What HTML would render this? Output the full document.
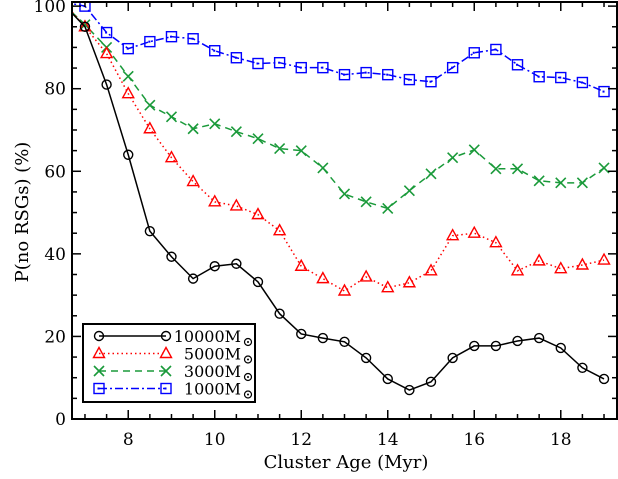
<!DOCTYPE html>
<html><head><meta charset="utf-8"><style>
html,body{margin:0;padding:0;background:#fff;}
svg text{font-family:"DejaVu Serif","Liberation Serif",serif;}
</style></head><body>
<svg id="chart" width="618" height="474" viewBox="0 0 618 474" xmlns="http://www.w3.org/2000/svg">
<defs><clipPath id="pc"><rect x="72" y="2" width="545" height="417"/></clipPath></defs>
<g id="series" clip-path="url(#pc)"></g>
<rect x="72" y="2" width="545" height="417" fill="none" stroke="#000" stroke-width="2"/>
<g id="axes"></g>
<text x="346" y="468" font-size="18" text-anchor="middle">Cluster Age (Myr)</text>
<text transform="translate(28,212) rotate(-90)" font-size="18" text-anchor="middle">P(no RSGs) (%)</text>
<g id="legend"></g>
</svg>
<script>
const ages = [6.5,7,7.5,8,8.5,9,9.5,10,10.5,11,11.5,12,12.5,13,13.5,14,14.5,15,15.5,16,16.5,17,17.5,18,18.5,19];
const m10000 = [100.5,95,81,64,45.5,39.3,34,37,37.6,33.2,25.5,20.6,19.6,18.7,14.8,9.7,7,9,14.8,17.7,17.7,18.9,19.6,17.2,12.4,9.7];
const m5000 = [101,95,88.5,78.8,70.3,63.3,57.5,52.6,51.6,49.5,45.6,37,34,31,34.4,31.8,33,35.9,44.4,45,42.7,35.9,38.3,36.4,37.3,38.5];
const m3000 = [100.5,95.5,90,83,76,73.2,70.3,71.5,69.6,67.9,65.5,65,60.8,54.5,52.6,51,55.3,59.4,63.3,65.2,60.6,60.6,57.7,57.2,57.2,60.8];
const m1000 = [101,100,93.6,89.7,91.4,92.6,92.1,89.2,87.5,86.1,86.3,85.1,85.1,83.4,83.9,83.4,82.2,81.7,85.1,88.7,89.5,85.8,82.9,82.7,81.5,79.3];
const seriesNames = ["10000M","5000M","3000M","1000M"];
const xTicks = [8,10,12,14,16,18];
const yTicks = [0,20,40,60,80,100];

const NS="http://www.w3.org/2000/svg";
const X0=6.7,X1=19.3,Y0=0,Y1=101;
const L=72,R=617,T=2,B=419;
function sx(v){return L+(v-X0)/(X1-X0)*(R-L);}
function sy(v){return B-(v-Y0)/(Y1-Y0)*(B-T);}
function el(tag,attrs,parent){const e=document.createElementNS(NS,tag);for(const k in attrs)e.setAttribute(k,attrs[k]);parent.appendChild(e);return e;}

const axes=document.getElementById('axes');
for(let v=7;v<=19.001;v+=0.5){
  const major=Math.abs(v/2-Math.round(v/2))<1e-6;
  const len=major?9:5;
  const t1=el('line',{x1:sx(v),x2:sx(v),y1:B,y2:B-len,stroke:'#000','stroke-width':1.5},axes);
  
  
  const t2=el('line',{x1:sx(v),x2:sx(v),y1:T,y2:T+len,stroke:'#000','stroke-width':1.5},axes);
  
  
}
xTicks.forEach(v=>{
  const t=el('text',{x:sx(v),y:445,'font-size':17,'text-anchor':'middle'},axes);t.textContent=v;
  
  
});
for(let v=0;v<=100;v+=5){
  const major=v%20===0;const len=major?9:5;
  const t1=el('line',{x1:L,x2:L+len,y1:sy(v),y2:sy(v),stroke:'#000','stroke-width':1.5},axes);
  
  
  const t2=el('line',{x1:R,x2:R-len,y1:sy(v),y2:sy(v),stroke:'#000','stroke-width':1.5},axes);
  
  
}
yTicks.forEach(v=>{
  const t=el('text',{x:66,y:sy(v)+6,'font-size':17,'text-anchor':'end'},axes);t.textContent=v;
  
  
});

const styles=[
 {c:'#000',d:'',m:'circle'},
 {c:'#ff0000',d:'1.5,3',m:'tri'},
 {c:'#1a9a3a',d:'7,5',m:'x'},
 {c:'#0000ff',d:'8,3,2,3',m:'sq'}];
function marker(g,type,x,y,c){
  let e;
  if(type==='circle')e=el('circle',{cx:x,cy:y,r:4.5,fill:'none',stroke:c,'stroke-width':1.4},g);
  else if(type==='tri')e=el('polygon',{points:`${x},${y-6} ${x-5.5},${y+4} ${x+5.5},${y+4}`,fill:'none',stroke:c,'stroke-width':1.4},g);
  else if(type==='x')e=el('path',{d:`M${x-5},${y-5}L${x+5},${y+5}M${x-5},${y+5}L${x+5},${y-5}`,stroke:c,'stroke-width':1.6},g);
  else {e=el('rect',{x:x-5,y:y-5,width:10,height:10,fill:'none',stroke:c,'stroke-width':1.4},g);
    const d=el('rect',{x:x-1.5,y:y-1,width:2,height:2,fill:c},g);
    
    }
  
  
}
const sg=document.getElementById('series');
const allSeries=[m10000,m5000,m3000,m1000];
[3,2,1,0].forEach(i=>{
  const vals=allSeries[i],s=styles[i];
  const g=el('g',{},sg);
  
  
  const pts=ages.map((a,k)=>sx(a)+','+sy(vals[k])).join(' ');
  const pl=el('polyline',{points:pts,fill:'none',stroke:s.c,'stroke-width':1.5,'stroke-dasharray':s.d},g);
  
  
  ages.forEach((a,k)=>marker(g,s.m,sx(a),sy(vals[k]),s.c));
});

const lg=document.getElementById('legend');
const box=el('rect',{x:83,y:324,width:172,height:78,fill:'#fff',stroke:'#000','stroke-width':2},lg);


seriesNames.forEach((n,i)=>{
  const y=336+i*17.5,s=styles[i];
  const g=el('g',{},lg);
  
  
  const ln=el('line',{x1:99,x2:166,y1:y,y2:y,stroke:s.c,'stroke-width':1.5,'stroke-dasharray':s.d},g);
  
  
  marker(g,s.m,99,y,s.c);marker(g,s.m,166,y,s.c);
  const t=el('text',{x:241,y:y+6,'font-size':16,'text-anchor':'end'},g);t.textContent=n;
  
  
  const sun=el('circle',{cx:248,cy:y+6,r:3.5,fill:'none',stroke:'#000','stroke-width':1.2},g);
  
  
  const dot=el('circle',{cx:248,cy:y+6,r:1,fill:'#000'},g);
  
  
});
</script>
</body></html>
